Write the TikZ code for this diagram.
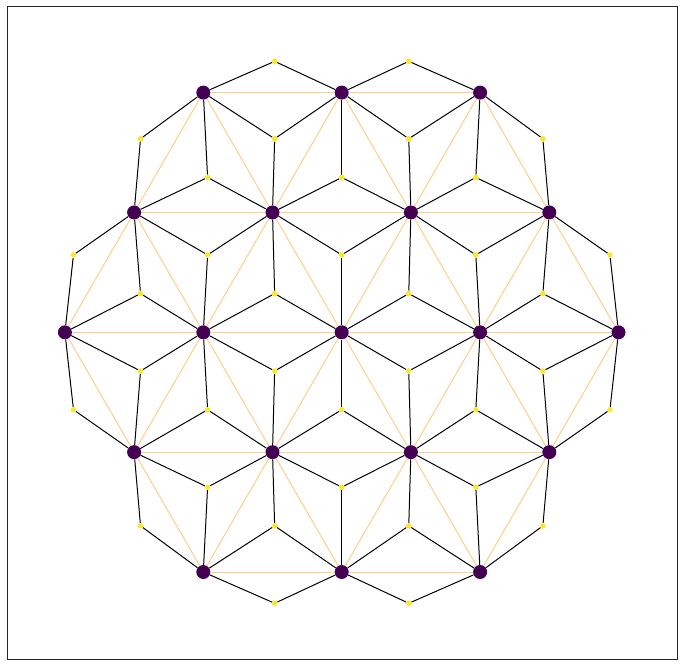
\documentclass[tikz,border=0pt]{standalone}
\pgfdeclarelayer{bg}
\pgfsetlayers{bg,main}
\definecolor{pv}{HTML}{440154}
\definecolor{yv}{HTML}{FDE725}
\definecolor{ed}{RGB}{255,206,138}
\definecolor{fr}{HTML}{262626}
\newcommand{\hexok}[3]{\pgfmathtruncatemacro#3{and(and(abs(#1)<=2,abs(#2)<=2),abs((#1)+(#2))<=2)}}
\tikzset{
  pnode/.style={circle,fill=pv,draw=none,minimum size=14pt,inner sep=0pt},
  ynode/.style={circle,fill=yv,draw=none,minimum size=5.5pt,inner sep=0pt},
  oedge/.style={draw=ed,line width=1pt},
  bedge/.style={draw=black,line width=1pt},
}
\begin{document}
\begin{tikzpicture}[x=1pt,y=-1pt]
\useasboundingbox (0,0) rectangle (684,666);
\draw[fr,line width=1pt] (7.3,6.3) rectangle (677.3,659.3);
\begin{scope}[shift={(341.7,332.3)},x=138.4pt,y=-119.85pt]
% purple lattice nodes
\foreach \q in {-2,...,2}{\foreach \r in {-2,...,2}{
  \hexok{\q}{\r}{\ok}
  \ifnum\ok=1
    \pgfmathtruncatemacro\Q{\q+3}\pgfmathtruncatemacro\R{\r+3}
    \node[pnode] (p\Q\R) at ({\q+(\r)/2},\r) {};
  \fi
}}
% orange lattice edges
\foreach \q in {-2,...,2}{\foreach \r in {-2,...,2}{
  \hexok{\q}{\r}{\ok}
  \ifnum\ok=1
    \pgfmathtruncatemacro\Q{\q+3}\pgfmathtruncatemacro\R{\r+3}
    \foreach \dq/\dr in {1/0,0/1,-1/1}{
      \pgfmathtruncatemacro\nq{\q+\dq}\pgfmathtruncatemacro\nr{\r+\dr}
      \hexok{\nq}{\nr}{\okb}
      \ifnum\okb=1
        \pgfmathtruncatemacro\NQ{\nq+3}\pgfmathtruncatemacro\NR{\nr+3}
        \begin{pgfonlayer}{bg}
          \draw[oedge] (p\Q\R) -- (p\NQ\NR);
        \end{pgfonlayer}
      \fi
    }
  \fi
}}
% yellow dual nodes and black edges
\foreach \q in {-3,...,2}{\foreach \r in {-3,...,2}{
  \foreach \t/\aq/\ar/\bq/\br/\cq/\cr/\ox/\oy in {0/0/0/1/0/0/1/0.5/0.33333,1/1/0/0/1/1/1/1/0.66667}{
    \pgfmathtruncatemacro\Aq{\q+\aq}\pgfmathtruncatemacro\Ar{\r+\ar}
    \pgfmathtruncatemacro\Bq{\q+\bq}\pgfmathtruncatemacro\Br{\r+\br}
    \pgfmathtruncatemacro\Cq{\q+\cq}\pgfmathtruncatemacro\Cr{\r+\cr}
    \hexok{\Aq}{\Ar}{\ka}\hexok{\Bq}{\Br}{\kb}\hexok{\Cq}{\Cr}{\kc}
    \pgfmathtruncatemacro\n{\ka+\kb+\kc}
    \ifnum\n>1
      \pgfmathtruncatemacro\QQ{\q+4}\pgfmathtruncatemacro\RR{\r+4}
      \node[ynode] (y\t\QQ\RR) at ({0.969*(\q+(\r)/2+\ox)},{0.969*(\r+\oy)}) {};
      \pgfmathtruncatemacro\Aqs{\Aq+3}\pgfmathtruncatemacro\Ars{\Ar+3}
      \pgfmathtruncatemacro\Bqs{\Bq+3}\pgfmathtruncatemacro\Brs{\Br+3}
      \pgfmathtruncatemacro\Cqs{\Cq+3}\pgfmathtruncatemacro\Crs{\Cr+3}
      \begin{pgfonlayer}{bg}
        \ifnum\ka=1 \draw[bedge] (y\t\QQ\RR) -- (p\Aqs\Ars); \fi
        \ifnum\kb=1 \draw[bedge] (y\t\QQ\RR) -- (p\Bqs\Brs); \fi
        \ifnum\kc=1 \draw[bedge] (y\t\QQ\RR) -- (p\Cqs\Crs); \fi
      \end{pgfonlayer}
    \fi
  }
}}
\end{scope}
\end{tikzpicture}
\end{document}
